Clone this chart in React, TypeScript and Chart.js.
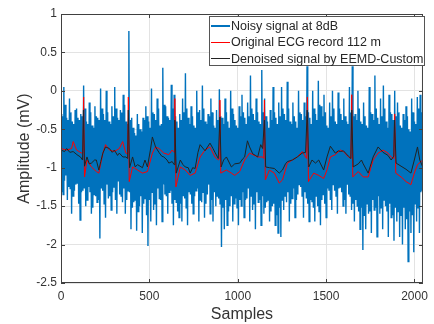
import React, { useEffect, useRef } from "react";
import { Chart, registerables } from "chart.js";

Chart.register(...registerables);

const xTicks = [0, 500, 1000, 1500, 2000];
const yTicks = [-2.5, -2, -1.5, -1, -0.5, 0, 0.5, 1];

// Noisy signal, read in blocks of 16 samples:
// outer peak, inner trough, inner peak, outer trough
const noisyStep = 16;
const noisyPeaks = [
  -0.3, 0.05, -0.35, -0.1, -0.4, -0.25, -0.35, -0.3,
  0.07, -0.4, -0.15, -0.45, -0.2, -0.35, 0.03, -0.3,
  0.0, -0.4, -0.2, 0.05, -0.35, -0.25, -0.05, -0.4,
  0.78, -0.35, -0.55, -0.3, -0.5, -0.35, -0.2, -0.4,
  0.03, -0.3, -0.1, -0.45, 0.3, -0.2, -0.35, 0.08,
  -0.05, -0.4, -0.3, -0.1, 0.23, -0.35, -0.2, -0.45,
  0.0, -0.25, 0.07, -0.4, -0.3, -0.1, -0.45, -0.25,
  0.02, -0.35, -0.1, -0.4, 0.0, -0.3, -0.45, -0.2,
  -0.05, -0.35, -0.15, 0.2, -0.3, -0.1, -0.4, 0.27,
  -0.1, -0.4, -0.25, 0.05, -0.35, -0.15, 0.05, -0.3,
  0.12, -0.4, -0.15, -0.4, 0.0, -0.3, -0.15, 0.32,
  -0.35, 0.0, -0.3, 0.13, -0.2, -0.05, -0.45, -0.15,
  0.0, -0.4, -0.02, -0.3, -0.1, -0.4, 0.05, 0.32,
  -0.3, 0.0, -0.4, -0.15, -0.45, 0.05, -0.3, 0.2,
  -0.35, -0.1, 0.07, -0.4, -0.05, -0.3, 0.0, -0.15,
  -0.45, -0.3, -0.2, -0.5, -0.1, -0.4, -0.08, -0.05,
];
const noisyInnerTroughs = [
  -1.32, -1.17, -1.42, -1.27, -1.37, -1.22, -1.47, -1.32,
  -1.27, -1.42, -1.32, -1.52, -1.37, -1.42, -1.27, -1.47,
  -1.22, -1.37, -1.32, -1.42, -1.17, -1.37, -1.27, -1.42,
  -1.32, -1.52, -1.42, -1.57, -1.37, -1.47, -1.62, -1.42,
  -1.32, -1.47, -1.27, -1.42, -1.22, -1.37, -1.32, -1.47,
  -1.42, -1.57, -1.47, -1.37, -1.52, -1.32, -1.47, -1.37,
  -1.27, -1.42, -1.32, -1.47, -1.22, -1.42, -1.32, -1.37,
  -1.47, -1.52, -1.42, -1.57, -1.37, -1.47, -1.52, -1.42,
  -1.32, -1.42, -1.27, -1.37, -1.47, -1.32, -1.42, -1.37,
  -1.52, -1.42, -1.57, -1.47, -1.62, -1.52, -1.42, -1.37,
  -1.32, -1.47, -1.27, -1.42, -1.22, -1.37, -1.32, -1.47,
  -1.42, -1.52, -1.37, -1.57, -1.42, -1.47, -1.27, -1.42,
  -1.22, -1.37, -1.27, -1.32, -1.42, -1.22, -1.37, -1.47,
  -1.42, -1.57, -1.52, -1.62, -1.47, -1.57, -1.42, -1.52,
  -1.37, -1.52, -1.42, -1.57, -1.47, -1.62, -1.52, -1.57,
  -1.62, -1.52, -1.67, -1.57, -1.62, -1.47, -1.52, -1.32,
];
const noisyInnerPeaks = [
  -0.33, -0.18, -0.38, -0.28, -0.43, -0.23, -0.38, -0.33,
  -0.23, -0.43, -0.28, -0.48, -0.33, -0.38, -0.23, -0.38,
  -0.28, -0.43, -0.33, -0.23, -0.38, -0.28, -0.18, -0.43,
  -0.38, -0.48, -0.58, -0.43, -0.53, -0.38, -0.33, -0.48,
  -0.28, -0.38, -0.23, -0.43, -0.18, -0.33, -0.38, -0.23,
  -0.33, -0.48, -0.38, -0.28, -0.23, -0.43, -0.33, -0.48,
  -0.28, -0.38, -0.23, -0.43, -0.33, -0.28, -0.48, -0.38,
  -0.33, -0.43, -0.28, -0.48, -0.23, -0.38, -0.48, -0.33,
  -0.28, -0.43, -0.33, -0.23, -0.38, -0.28, -0.43, -0.28,
  -0.33, -0.48, -0.38, -0.28, -0.43, -0.33, -0.23, -0.38,
  -0.23, -0.43, -0.33, -0.48, -0.28, -0.38, -0.33, -0.28,
  -0.43, -0.23, -0.38, -0.18, -0.33, -0.28, -0.48, -0.33,
  -0.23, -0.43, -0.23, -0.38, -0.33, -0.43, -0.28, -0.33,
  -0.38, -0.23, -0.43, -0.33, -0.48, -0.28, -0.38, -0.23,
  -0.43, -0.33, -0.23, -0.48, -0.28, -0.38, -0.33, -0.28,
  -0.48, -0.38, -0.33, -0.53, -0.28, -0.43, -0.23, -0.28,
];
const noisyTroughs = [
  -1.35, -1.1, -1.25, -1.6, -1.3, -1.2, -1.68, -1.3,
  -1.5, -1.25, -1.6, -1.35, -1.45, -1.92, -1.3, -1.65,
  -1.4, -1.55, -1.25, -1.6, -1.35, -1.45, -1.6, -1.3,
  -1.8, -1.45, -1.82, -1.5, -1.85, -1.4, -2.02, -1.7,
  -1.55, -1.75, -1.4, -1.7, -1.35, -1.6, -1.3, -1.75,
  -1.45, -1.65, -1.7, -1.4, -1.75, -1.35, -1.6, -1.3,
  -1.7, -1.45, -1.65, -1.35, -1.6, -1.7, -1.5, -1.4,
  -2.03, -1.8, -1.75, -1.5, -1.7, -1.4, -1.75, -1.5,
  -1.65, -1.4, -1.7, -1.55, -1.8, -1.45, -1.75, -1.6,
  -1.45, -1.7, -1.5, -1.75, -1.85, -1.9, -1.55, -1.45,
  -1.7, -1.4, -1.65, -1.35, -1.25, -1.65, -1.4, -1.7,
  -1.45, -1.7, -1.5, -1.75, -1.35, -1.65, -1.3, -1.55,
  -1.3, -1.6, -1.25, -1.5, -1.6, -1.35, -1.55, -1.7,
  -1.5, -1.8, -2.07, -1.8, -1.6, -1.85, -1.55, -1.9,
  -1.6, -1.8, -1.5, -1.9, -1.65, -1.95, -1.7, -1.9,
  -2.0, -1.8, -2.22, -1.85, -2.1, -1.7, -1.85, -1.3,
];

const ecgSamples = [
  0, 32, 60, 69, 88, 116, 124, 128, 133, 147, 172, 200, 214, 237, 252, 274,
  302, 330, 349, 367, 377, 381, 386, 405, 433, 461, 489, 517, 535, 554, 582,
  610, 629, 640, 644, 650, 675, 703, 731, 759, 787, 815, 843, 871, 890, 896,
  899, 904, 936, 964, 983, 1011, 1039, 1067, 1085, 1113, 1141, 1147, 1151,
  1156, 1179, 1207, 1235, 1253, 1281, 1309, 1337, 1365, 1384, 1390, 1394,
  1400, 1430, 1458, 1486, 1505, 1524, 1552, 1580, 1598, 1626, 1640, 1645,
  1651, 1682, 1710, 1738, 1766, 1794, 1822, 1850, 1868, 1883, 1888, 1894,
  1924, 1952, 1980, 1999, 2017, 2047,
];
const ecgValues = [
  -0.75, -0.77, -0.75, -0.66, -0.77, -0.81, -0.8, -0.08, -1.12, -0.9, -0.99,
  -1.05, -1.07, -0.81, -0.7, -0.77, -0.79, -0.75, -0.66, -0.81, -0.82, -0.08,
  -1.18, -0.99, -1.03, -1.07, -1.05, -0.81, -0.73, -0.75, -0.81, -0.83, -0.77,
  -0.8, -0.1, -1.25, -0.99, -1.03, -1.1, -1.07, -0.86, -0.77, -0.73, -0.86,
  -0.9, -0.88, -0.12, -1.07, -1.03, -1.07, -1.1, -1.05, -0.9, -0.81, -0.83,
  -0.86, -0.86, -0.88, -0.12, -1.16, -1.03, -1.07, -1.2, -1.16, -0.94, -0.9,
  -0.86, -0.79, -0.86, -0.88, -0.08, -1.18, -1.07, -1.1, -1.14, -1.03, -0.86,
  -0.83, -0.77, -0.79, -0.86, -0.88, -0.05, -1.12, -1.05, -1.12, -1.12, -0.9,
  -0.81, -0.77, -0.81, -0.86, -0.88, -0.3, -1.07, -1.12, -1.18, -1.22, -1.07,
  -0.96, -0.9,
];

const denoisedSamples = [
  0, 20, 32, 50, 69, 90, 110, 122, 127, 133, 147, 160, 172, 190, 200, 214,
  225, 237, 252, 274, 290, 302, 320, 330, 350, 367, 377, 381, 388, 405, 420,
  433, 461, 475, 489, 505, 517, 535, 554, 570, 582, 600, 610, 629, 640, 644,
  652, 675, 690, 703, 720, 731, 745, 759, 775, 787, 815, 843, 860, 871, 890,
  899, 906, 920, 936, 964, 983, 1011, 1030, 1039, 1055, 1067, 1085, 1100,
  1113, 1130, 1141, 1151, 1158, 1179, 1207, 1235, 1253, 1270, 1281, 1309,
  1337, 1365, 1384, 1393, 1402, 1420, 1440, 1458, 1486, 1505, 1524, 1552,
  1570, 1580, 1598, 1626, 1640, 1645, 1653, 1682, 1700, 1710, 1738, 1766,
  1794, 1822, 1850, 1868, 1883, 1887, 1896, 1924, 1952, 1980, 1999, 2017,
  2030, 2047,
];
const denoisedValues = [
  -0.77, -0.79, -0.75, -0.8, -0.79, -0.83, -0.86, -0.9, -0.25, -0.98, -0.86,
  -0.95, -0.94, -0.9, -0.9, -1.03, -0.92, -0.81, -0.73, -0.75, -0.8, -0.77,
  -0.84, -0.81, -0.86, -0.86, -0.88, -0.25, -1.0, -0.86, -0.99, -0.96, -1.0,
  -0.9, -0.99, -0.78, -0.6, -0.73, -0.8, -0.85, -0.86, -0.9, -0.94, -0.92,
  -0.96, -0.38, -1.07, -0.9, -0.96, -0.99, -1.0, -1.07, -1.0, -1.01, -0.8,
  -0.7, -0.78, -0.68, -0.75, -0.8, -0.88, -0.34, -0.99, -0.9, -0.86, -0.99,
  -0.95, -0.94, -0.88, -0.86, -0.65, -0.73, -0.82, -0.84, -0.86, -0.7, -0.75,
  -0.38, -0.99, -1.0, -1.01, -1.07, -1.03, -0.95, -0.92, -0.9, -0.86, -0.81,
  -0.8, -0.25, -0.99, -0.9, -0.94, -0.9, -1.03, -0.86, -0.72, -0.81, -0.78,
  -0.79, -0.78, -0.85, -0.88, -0.25, -0.99, -0.95, -0.9, -0.95, -1.07, -0.86,
  -0.73, -0.8, -0.84, -0.9, -0.85, -0.38, -0.94, -0.98, -1.02, -1.07, -0.9,
  -0.73, -0.9, -0.99,
];

const legendLabels = [
  "Noisy signal at 8dB",
  "Original ECG record 112 m",
  "Denoised signal by EEMD-Custom",
];
const legendColors = ["#0072BD", "#ff0000", "#222222"];
const legendWidths = [2, 1, 1];

const FONT = "'Liberation Sans', Arial, Helvetica, sans-serif";
const AXIS_COLOR = "#404040";

const boxPlugin = {
  id: "matlabBox",
  afterDatasetsDraw(chart: any) {
    const { ctx, chartArea } = chart;
    const { left, right, top, bottom } = chartArea;
    const xs = chart.scales.x;
    const ys = chart.scales.y;
    ctx.save();
    ctx.strokeStyle = AXIS_COLOR;
    ctx.lineWidth = 1;
    ctx.strokeRect(left + 0.5, top + 0.5, right - left - 1, bottom - top - 1);
    ctx.beginPath();
    xTicks.forEach((v) => {
      const px = Math.round(xs.getPixelForValue(v)) + 0.5;
      ctx.moveTo(px, bottom);
      ctx.lineTo(px, bottom - 4);
      ctx.moveTo(px, top);
      ctx.lineTo(px, top + 4);
    });
    yTicks.forEach((v) => {
      const py = Math.round(ys.getPixelForValue(v)) + 0.5;
      ctx.moveTo(left, py);
      ctx.lineTo(left + 4, py);
      ctx.moveTo(right, py);
      ctx.lineTo(right - 4, py);
    });
    ctx.stroke();
    ctx.restore();
  },
};

export default function App() {
  const canvasRef = useRef<HTMLCanvasElement | null>(null);

  useEffect(() => {
    if (!canvasRef.current) return;
    const q = noisyStep / 4;
    const noisy: { x: number; y: number }[] = [];
    noisyPeaks.forEach((v, k) => {
      const s = k * noisyStep;
      noisy.push({ x: s, y: v });
      noisy.push({ x: s + q, y: noisyInnerTroughs[k] });
      noisy.push({ x: s + 2 * q, y: noisyInnerPeaks[k] });
      noisy.push({ x: s + 3 * q, y: noisyTroughs[k] });
    });
    const ecg = ecgSamples.map((s, i) => ({ x: s, y: ecgValues[i] }));
    const den = denoisedSamples.map((s, i) => ({ x: s, y: denoisedValues[i] }));

    const chart = new Chart(canvasRef.current, {
      type: "line",
      data: {
        datasets: [
          {
            label: legendLabels[2],
            data: den,
            borderColor: legendColors[2],
            borderWidth: 1,
            pointRadius: 0,
            tension: 0,
          },
          {
            label: legendLabels[1],
            data: ecg,
            borderColor: legendColors[1],
            borderWidth: 1,
            pointRadius: 0,
            tension: 0,
          },
          {
            label: legendLabels[0],
            data: noisy,
            borderColor: legendColors[0],
            borderWidth: 1.4,
            pointRadius: 0,
            tension: 0,
          },
        ],
      },
      options: {
        responsive: false,
        animation: false,
        layout: { padding: { top: 14, right: 7, left: 0, bottom: 0 } },
        plugins: { legend: { display: false }, tooltip: { enabled: false } },
        scales: {
          x: {
            type: "linear",
            min: 0,
            max: 2048,
            afterFit: (s: any) => {
              s.height = 41;
            },
            afterBuildTicks: (s: any) => {
              s.ticks = xTicks.map((v) => ({ value: v }));
            },
            grid: { color: "#e3e3e3", drawTicks: false },
            border: { display: false },
            ticks: {
              padding: 6,
              color: "#333",
              font: { family: FONT, size: 12 },
              maxRotation: 0,
              callback: (v: any) => String(v),
            },
            title: {
              display: true,
              text: "Samples",
              color: "#333",
              font: { family: FONT, size: 16 },
              padding: { top: 0, bottom: 0 },
            },
          },
          y: {
            type: "linear",
            min: -2.5,
            max: 1,
            afterFit: (s: any) => {
              s.width = 61;
            },
            afterBuildTicks: (s: any) => {
              s.ticks = yTicks.map((v) => ({ value: v }));
            },
            grid: { color: "#e3e3e3", drawTicks: false },
            border: { display: false },
            ticks: {
              padding: 4,
              color: "#333",
              font: { family: FONT, size: 12 },
              callback: (v: any) => String(v),
            },
            title: {
              display: true,
              text: "Amplitude (mV)",
              color: "#333",
              font: { family: FONT, size: 16 },
              padding: { top: 15, bottom: 0 },
            },
          },
        },
      },
      plugins: [boxPlugin],
    });
    return () => chart.destroy();
  }, []);

  return (
    <div style={{ position: "fixed", left: 0, top: 0, width: 434, height: 324, background: "#fff" }}>
      <canvas ref={canvasRef} width={434} height={324} style={{ display: "block" }} />
      <div
        style={{
          position: "absolute",
          left: 209,
          top: 16,
          width: 216,
          height: 50,
          boxSizing: "border-box",
          border: "1px solid #555",
          background: "#fff",
          fontFamily: FONT,
          fontSize: 12.5,
          color: "#262626",
        }}
      >
        {legendLabels.map((label, i) => (
          <div
            key={label}
            style={{
              position: "absolute",
              left: 1,
              top: 1 + i * 16.4,
              height: 16,
              display: "flex",
              alignItems: "center",
              whiteSpace: "nowrap",
            }}
          >
            <span
              style={{
                display: "inline-block",
                width: 19,
                height: 0,
                borderTop: `${legendWidths[i]}px solid ${legendColors[i]}`,
                marginRight: 1,
              }}
            />
            <span>{label}</span>
          </div>
        ))}
      </div>
    </div>
  );
}
